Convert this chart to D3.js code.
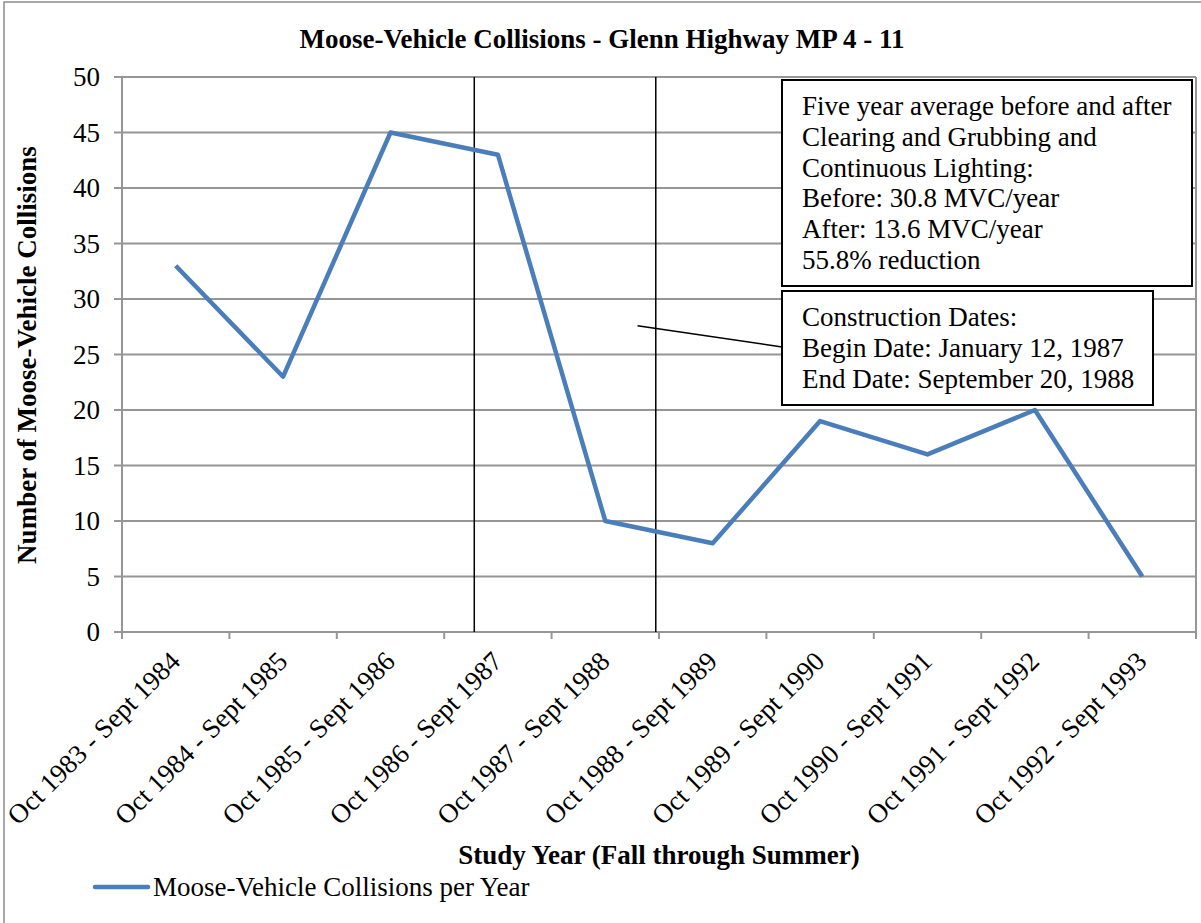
<!DOCTYPE html>
<html>
<head>
<meta charset="utf-8">
<script src="https://cdn.jsdelivr.net/npm/d3@7"></script>
<style>
	body { margin: 0; background: #fff; }
	text { font-family: "Liberation Serif", "Times New Roman", serif; fill: #000; }
</style>
</head>
<body>
<script>
var years = ['Oct 1983 - Sept 1984', 'Oct 1984 - Sept 1985', 'Oct 1985 - Sept 1986', 'Oct 1986 - Sept 1987',
	'Oct 1987 - Sept 1988', 'Oct 1988 - Sept 1989', 'Oct 1989 - Sept 1990', 'Oct 1990 - Sept 1991',
	'Oct 1991 - Sept 1992', 'Oct 1992 - Sept 1993']
var collisions = [33, 23, 45, 43, 10, 8, 19, 16, 20, 5]
var yTicks = [0, 5, 10, 15, 20, 25, 30, 35, 40, 45, 50]
// construction begin / end, in study-year units (Jan 12 1987, Sept 20 1988)
var constructionMarks = [3.28, 4.97]
var averageNote = ['Five year average before and after', 'Clearing and Grubbing and', 'Continuous Lighting:',
	'Before: 30.8 MVC/year', 'After: 13.6 MVC/year', '55.8% reduction']
var datesNote = ['Construction Dates:', 'Begin Date: January 12, 1987', 'End Date: September 20, 1988']

var W = 1201, H = 923
var plot = { left: 122, right: 1196, top: 77, bottom: 632 }
var fs = '27px'

var svg = d3.select('body').append('svg')
	.attr('width', W)
	.attr('height', H)

svg.append('rect')
	.attr('x', 4).attr('y', 2)
	.attr('width', 1210).attr('height', 940)
	.attr('fill', 'none')
	.attr('stroke', '#8c8c8c')
	.attr('stroke-width', 1.5)

var x = d3.scaleLinear().domain([0, years.length]).range([plot.left, plot.right])
var y = d3.scaleLinear().domain([0, 50]).range([plot.bottom, plot.top])

// grid
svg.append('g').selectAll('line')
	.data(yTicks)
	.enter()
	.append('line')
	.attr('x1', plot.left - 8).attr('x2', plot.right)
	.attr('y1', function(d) { return y(d) }).attr('y2', function(d) { return y(d) })
	.attr('stroke', '#969696')
	.attr('stroke-width', 2)

svg.append('line')
	.attr('x1', plot.left).attr('x2', plot.left)
	.attr('y1', plot.top).attr('y2', plot.bottom)
	.attr('stroke', '#969696').attr('stroke-width', 2)
svg.append('line')
	.attr('x1', plot.right).attr('x2', plot.right)
	.attr('y1', plot.top).attr('y2', plot.bottom + 7)
	.attr('stroke', '#969696').attr('stroke-width', 2)

svg.append('g').selectAll('line')
	.data(d3.range(years.length))
	.enter()
	.append('line')
	.attr('x1', function(d) { return x(d) }).attr('x2', function(d) { return x(d) })
	.attr('y1', plot.bottom).attr('y2', plot.bottom + 7)
	.attr('stroke', '#969696').attr('stroke-width', 2)

// y tick labels
svg.append('g').selectAll('text')
	.data(yTicks)
	.enter()
	.append('text')
	.attr('x', 100)
	.attr('y', function(d) { return y(d) + 9 })
	.attr('text-anchor', 'end')
	.style('font-size', fs)
	.text(function(d) { return d })

// x tick labels
svg.append('g').selectAll('text')
	.data(years)
	.enter()
	.append('text')
	.attr('transform', function(d, i) { return 'translate(' + (x(i + 0.5) + 6) + ',' + (plot.bottom + 31) + ') rotate(-45)' })
	.attr('text-anchor', 'end')
	.style('font-size', fs)
	.text(function(d) { return d })

// construction lines
svg.append('g').selectAll('line')
	.data(constructionMarks)
	.enter()
	.append('line')
	.attr('x1', function(d) { return x(d) }).attr('x2', function(d) { return x(d) })
	.attr('y1', plot.top).attr('y2', plot.bottom)
	.attr('stroke', '#000').attr('stroke-width', 1.5)

// data line
var line = d3.line()
	.x(function(d, i) { return x(i + 0.5) })
	.y(function(d) { return y(d) })
svg.append('path')
	.datum(collisions)
	.attr('d', line)
	.attr('fill', 'none')
	.attr('stroke', '#4a7ebb')
	.attr('stroke-width', 4.5)
	.attr('stroke-linejoin', 'round')

// connector
svg.append('line')
	.attr('x1', x(4.8)).attr('y1', y(27.6))
	.attr('x2', 782).attr('y2', 347)
	.attr('stroke', '#000').attr('stroke-width', 1.5)

function note(bx, by, bw, bh, lines) {
	var g = svg.append('g')
	g.append('rect')
		.attr('x', bx).attr('y', by)
		.attr('width', bw).attr('height', bh)
		.attr('fill', '#fff')
		.attr('stroke', '#000')
		.attr('stroke-width', 2)
	g.selectAll('text')
		.data(lines)
		.enter()
		.append('text')
		.attr('x', bx + 20)
		.attr('y', function(d, i) { return by + 35 + i * 30.8 })
		.style('font-size', fs)
		.text(function(d) { return d })
}
note(782, 80, 410, 206, averageNote)
note(782, 291, 371, 114, datesNote)

// titles
svg.append('text')
	.attr('x', 602).attr('y', 48)
	.attr('text-anchor', 'middle')
	.style('font-size', fs).style('font-weight', 'bold')
	.text('Moose-Vehicle Collisions - Glenn Highway MP 4 - 11')

svg.append('text')
	.attr('transform', 'translate(36,355) rotate(-90)')
	.attr('text-anchor', 'middle')
	.style('font-size', fs).style('font-weight', 'bold')
	.text('Number of Moose-Vehicle Collisions')

svg.append('text')
	.attr('x', 659).attr('y', 864)
	.attr('text-anchor', 'middle')
	.style('font-size', fs).style('font-weight', 'bold')
	.text('Study Year (Fall through Summer)')

// legend
svg.append('line')
	.attr('x1', 95).attr('x2', 148)
	.attr('y1', 887).attr('y2', 887)
	.attr('stroke', '#4a7ebb').attr('stroke-width', 4.5)
	.attr('stroke-linecap', 'round')
svg.append('text')
	.attr('x', 153).attr('y', 896)
	.style('font-size', fs)
	.text('Moose-Vehicle Collisions per Year')
</script>
</body>
</html>
